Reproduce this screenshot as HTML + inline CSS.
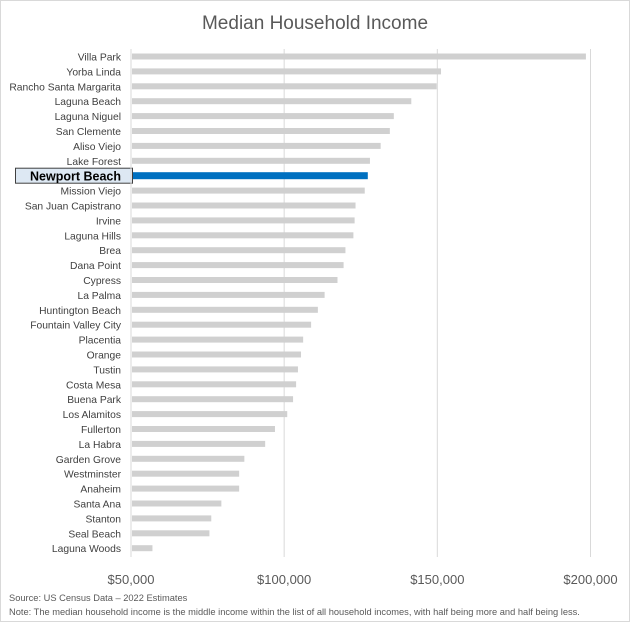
<!DOCTYPE html>
<html><head><meta charset="utf-8"><style>
body{margin:0;background:#fff;font-family:"Liberation Sans",sans-serif;}
#wrap{position:relative;width:628px;height:620px;border:1px solid #d9d9d9;overflow:hidden}
</style></head><body>
<div id="wrap">
<svg id="chart" width="628" height="620" xmlns="http://www.w3.org/2000/svg"></svg>
</div>
<script>
const categories=["Villa Park","Yorba Linda","Rancho Santa Margarita","Laguna Beach","Laguna Niguel","San Clemente","Aliso Viejo","Lake Forest","Newport Beach","Mission Viejo","San Juan Capistrano","Irvine","Laguna Hills","Brea","Dana Point","Cypress","La Palma","Huntington Beach","Fountain Valley City","Placentia","Orange","Tustin","Costa Mesa","Buena Park","Los Alamitos","Fullerton","La Habra","Garden Grove","Westminster","Anaheim","Santa Ana","Stanton","Seal Beach","Laguna Woods"];
const values=[198500,151200,149800,141500,135800,134500,131500,128000,127300,126300,123300,123000,122600,120000,119400,117400,113200,111000,108800,106200,105500,104500,103900,102900,101000,97000,93800,87000,85300,85300,79500,76200,75600,57000];
const tickValues=[50000,100000,150000,200000];
const tickLabels=["$50,000","$100,000","$150,000","$200,000"];
const highlight="Newport Beach";
const svg=document.getElementById('chart');
const NS="http://www.w3.org/2000/svg";
const x0=130,x1=589.5,vmin=50000,vmax=200000;
function xs(v){return x0+(v-vmin)/(vmax-vmin)*(x1-x0);}
const yTop=55.5,step=14.9;
function ys(i){return yTop+i*step;}
function mk(t,a,txt){const e=document.createElementNS(NS,t);for(const k in a)e.setAttribute(k,a[k]);if(txt!==undefined)e.textContent=txt;svg.appendChild(e);return e;}
const title=mk('text',{x:314,y:28,'text-anchor':'middle','font-size':19,fill:'#595959'},'Median Household Income');


tickValues.forEach((v,i)=>{
 const g=mk('line',{x1:xs(v),x2:xs(v),y1:48,y2:556,stroke:'#d9d9d9','stroke-width':1});
 
 
 const t=mk('text',{x:xs(v),y:583,'text-anchor':'middle','font-size':13,fill:'#595959'},tickLabels[i]);
 
 
});
categories.forEach((c,i)=>{
 const y=ys(i);const hl=c===highlight;
 const h=hl?7:6;
 const b=mk('rect',{x:x0+1,y:y-h/2,width:xs(values[i])-x0-1,height:h,fill:hl?'#0070c0':'#d0d0d0'});
 
 
 if(hl){
  const r=mk('rect',{x:14.5,y:y-7.5,width:117,height:15,fill:'#dde8f3',stroke:'#404040','stroke-width':1});
  
  
  const t=mk('text',{x:120,y:y+5,'text-anchor':'end','font-size':12.5,'font-weight':'bold',fill:'#000'},c);
  
  
 }else{
  const t=mk('text',{x:120,y:y+4,'text-anchor':'end','font-size':10.3,fill:'#404040'},c);
  
  
 }
});
const ax=mk('line',{x1:x0,x2:x0,y1:48,y2:556,stroke:'#d9d9d9','stroke-width':1});


const s1=mk('text',{x:8,y:600,'font-size':9.3,fill:'#595959'},'Source: US Census Data \u2013 2022 Estimates');


const s2=mk('text',{x:8,y:614,'font-size':9.3,fill:'#595959'},'Note: The median household income is the middle income within the list of all household incomes, with half being more and half being less.');


</script>
</body></html>
